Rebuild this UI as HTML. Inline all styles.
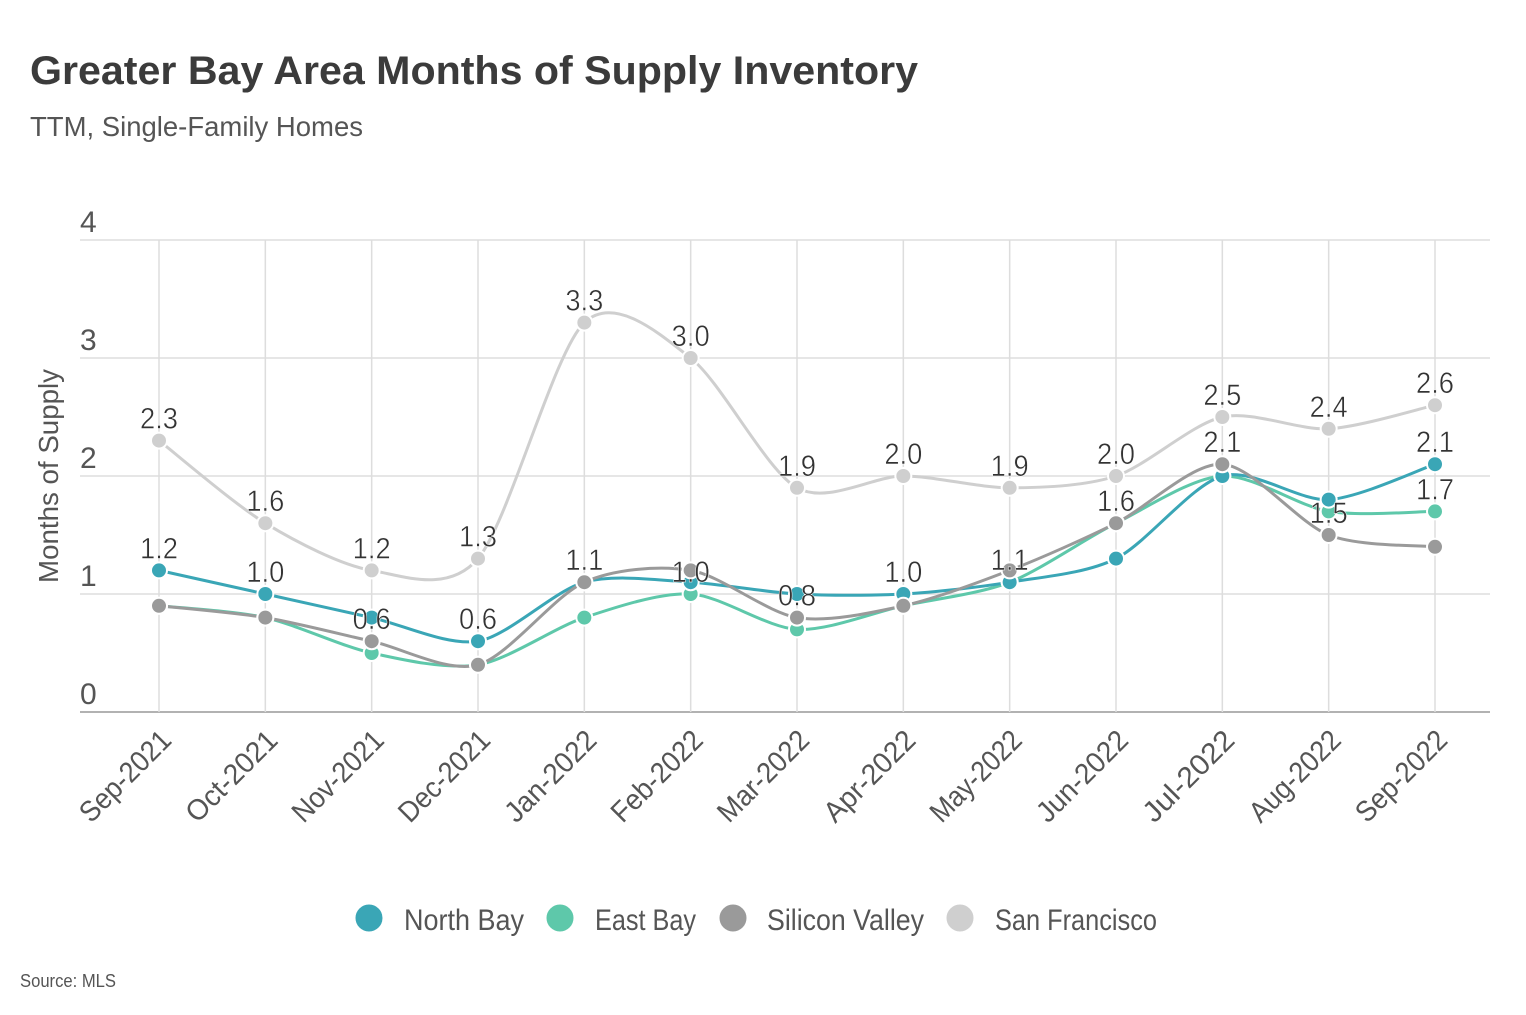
<!DOCTYPE html>
<html><head><meta charset="utf-8">
<style>
body{margin:0;background:#fff;width:1526px;height:1010px;overflow:hidden;font-family:"Liberation Sans",sans-serif}
svg text{font-family:"Liberation Sans",sans-serif}
</style></head>
<body>
<svg id="chart" width="1526" height="1010">
<text x="30" y="84" font-size="40" font-weight="bold" fill="#3b3b3b" textLength="888" lengthAdjust="spacingAndGlyphs">Greater Bay Area Months of Supply Inventory</text>
<text x="30" y="136" font-size="28" fill="#555" textLength="333" lengthAdjust="spacingAndGlyphs">TTM, Single-Family Homes</text>
<text transform="translate(58,476) rotate(-90)" text-anchor="middle" font-size="28" fill="#555" textLength="214" lengthAdjust="spacingAndGlyphs">Months of Supply</text>
<g id="grid"></g><g id="lines"></g><g id="pts"></g><g id="lbls"></g>
<g>
<circle cx="369" cy="918" r="15" fill="#3aa6b6" stroke="#fff" stroke-width="3"/>
<text x="404" y="930" font-size="30" fill="#555" textLength="120" lengthAdjust="spacingAndGlyphs">North Bay</text>
<circle cx="560" cy="918" r="15" fill="#5ec8aa" stroke="#fff" stroke-width="3"/>
<text x="595" y="930" font-size="30" fill="#555" textLength="101" lengthAdjust="spacingAndGlyphs">East Bay</text>
<circle cx="733" cy="918" r="15" fill="#9a9a9a" stroke="#fff" stroke-width="3"/>
<text x="767" y="930" font-size="30" fill="#555" textLength="157" lengthAdjust="spacingAndGlyphs">Silicon Valley</text>
<circle cx="960" cy="918" r="15" fill="#cfcfcf" stroke="#fff" stroke-width="3"/>
<text x="995" y="930" font-size="30" fill="#555" textLength="162" lengthAdjust="spacingAndGlyphs">San Francisco</text>
</g>
<text x="20" y="987" font-size="18" fill="#555" textLength="96" lengthAdjust="spacingAndGlyphs">Source:  MLS</text>
</svg>
<script>
const categories=["Sep-2021","Oct-2021","Nov-2021","Dec-2021","Jan-2022","Feb-2022","Mar-2022","Apr-2022","May-2022","Jun-2022","Jul-2022","Aug-2022","Sep-2022"];
const yTicks=[0,1,2,3,4];
const northBay=[1.2,1.0,0.8,0.6,1.1,1.1,1.0,1.0,1.1,1.3,2.0,1.8,2.1];
const eastBay=[0.9,0.8,0.5,0.4,0.8,1.0,0.7,0.9,1.1,1.6,2.0,1.7,1.7];
const siliconValley=[0.9,0.8,0.6,0.4,1.1,1.2,0.8,0.9,1.2,1.6,2.1,1.5,1.4];
const sanFrancisco=[2.3,1.6,1.2,1.3,3.3,3.0,1.9,2.0,1.9,2.0,2.5,2.4,2.6];
const labelValues=[1.2,1.0,0.6,0.6,1.1,1.0,0.8,1.0,1.1,1.6,2.1,1.5,2.1];
const extraLabelValues=[null,null,null,null,null,null,null,null,null,null,null,null,1.7];
const NS="http://www.w3.org/2000/svg";
const x=i=>159+i*(1435-159)/(categories.length-1);
const y=v=>712-v*118;
function mk(t,a,p){const e=document.createElementNS(NS,t);for(const k in a)e.setAttribute(k,a[k]);p.appendChild(e);return e;}
const grid=document.getElementById('grid');
yTicks.forEach(t=>{
  const l=mk('line',{x1:80,x2:1490,y1:y(t),y2:y(t),stroke:t===0?'#999':'#ddd','stroke-width':1.5},grid);
  
  
  const tx=mk('text',{x:80,y:y(t)-8,'font-size':30,fill:'#555'},grid);tx.textContent=t;
  
  
});
categories.forEach((c,i)=>{
  const l=mk('line',{x1:x(i),x2:x(i),y1:240,y2:712,stroke:'#ddd','stroke-width':1.5},grid);
  
  
  const tx=mk('text',{transform:`translate(${x(i)+14},${742}) rotate(-45)`,'text-anchor':'end','font-size':29,fill:'#555',textLength:116,lengthAdjust:'spacingAndGlyphs'},grid);tx.textContent=c;
  
  
});
function path(vals){
  const p=vals.map((v,i)=>[x(i),y(v)]);let d=`M${p[0][0]},${p[0][1]}`;
  for(let i=0;i<p.length-1;i++){const p0=p[i-1]||p[i],p1=p[i],p2=p[i+1],p3=p[i+2]||p2;const k=7;
    d+=`C${p1[0]+(p2[0]-p0[0])/k},${p1[1]+(p2[1]-p0[1])/k} ${p2[0]-(p3[0]-p1[0])/k},${p2[1]-(p3[1]-p1[1])/k} ${p2[0]},${p2[1]}`;}
  return d;
}
const series=[[sanFrancisco,'#cfcfcf','san-francisco'],[eastBay,'#5ec8aa','east-bay'],[northBay,'#3aa6b6','north-bay'],[siliconValley,'#9a9a9a','silicon-valley']];
const L=document.getElementById('lines'),P=document.getElementById('pts');
series.forEach(([vals,col,nm])=>{
  const pa=mk('path',{d:path(vals),fill:'none',stroke:col,'stroke-width':3},L);
  
  
  vals.forEach((v,i)=>{const c=mk('circle',{cx:x(i),cy:y(v),r:8,fill:col,stroke:'#fff','stroke-width':2},P);
    
    });
});
const LB=document.getElementById('lbls');
function lab(v,i){const t=mk('text',{x:x(i),y:y(v)-12,'text-anchor':'middle','font-size':30,fill:'#333',stroke:'#fff','stroke-width':0.5,textLength:38,lengthAdjust:'spacingAndGlyphs'},LB);t.textContent=v.toFixed(1);
  
  }
sanFrancisco.forEach((v,i)=>lab(v,i));
labelValues.forEach((v,i)=>lab(v,i));
extraLabelValues.forEach((v,i)=>{if(v!==null)lab(v,i);});
</script>
</body></html>
